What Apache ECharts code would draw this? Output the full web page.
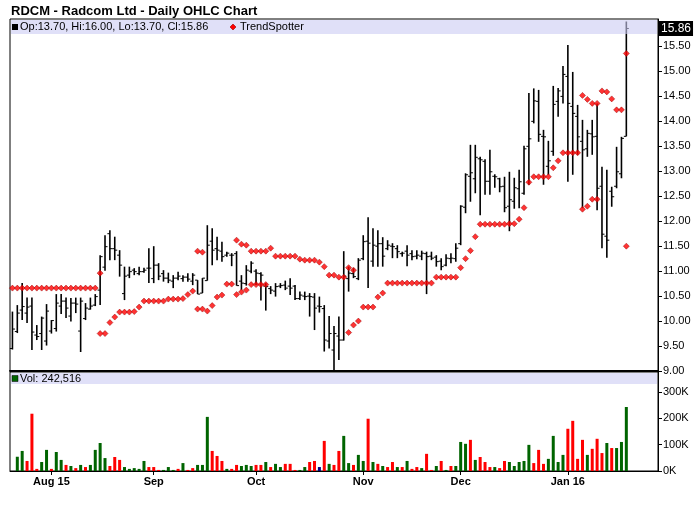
<!DOCTYPE html>
<html><head><meta charset="utf-8">
<script src="https://cdn.jsdelivr.net/npm/echarts@6/dist/echarts.min.js"></script>
<style>html,body{margin:0;padding:0;background:#fff}#c{width:700px;height:512px}</style>
</head><body><div id="c"></div>
<script>
const chartTitle = 'RDCM - Radcom Ltd - Daily OHLC Chart';
// trading days per month
const daysJul15 = [22,23,24,27,28,29,30,31];
const daysAug15 = [3,4,5,6,7,10,11,12,13,14,17,18,19,20,21,24,25,26,27,28,31];
const daysSep15 = [1,2,3,4,8,9,10,11,14,15,16,17,18,21,22,23,24,25,28,29,30];
const daysOct15 = [1,2,5,6,7,8,9,12,13,14,15,16,19,20,21,22,23,26,27,28,29,30];
const daysNov15 = [2,3,4,5,6,9,10,11,12,13,16,17,18,19,20,23,24,25,27,30];
const daysDec15 = [1,2,3,4,7,8,9,10,11,14,15,16,17,18,21,22,23,24,28,29,30,31];
const daysJan16 = [4,5,6,7,8,11,12,13,14,15,19,20,21];

const monthTickDates = ['2015-08-03','2015-09-01','2015-10-01','2015-11-02','2015-12-01','2016-01-04'];
const monthTickLabels = ['Aug 15','Sep','Oct','Nov','Dec','Jan 16'];
const priceTicks = [9,9.5,10,10.5,11,11.5,12,12.5,13,13.5,14,14.5,15,15.5];
const volTicks = [0,100000,200000,300000];

const opens = [
 9.45,9.79,10.22,10.16,10.30,9.72,9.75,9.60,9.80,9.85,
 10.30,10.40,10.10,10.36,9.80,10.05,10.24,10.32,10.62,11.08,
 11.75,11.45,11.32,10.55,10.92,11.02,10.95,10.99,11.06,10.85,
 11.12,10.95,10.86,10.80,10.86,10.85,10.88,10.80,10.82,10.56,
 10.81,11.60,11.45,11.40,11.32,11.32,11.35,10.80,10.75,11.00,
 11.00,10.95,10.70,10.65,10.60,10.70,10.72,10.70,10.70,10.45,
 10.50,10.50,10.48,10.30,10.25,9.60,9.42,9.70,9.62,10.85,
 10.95,10.85,11.25,11.60,11.20,11.50,11.55,11.45,11.50,11.45,
 11.35,11.40,11.35,11.30,11.30,11.35,11.30,11.28,11.20,11.12,
 11.25,11.25,11.55,12.28,12.90,12.85,13.25,13.20,12.80,12.90,
 12.85,12.70,12.30,12.40,12.65,12.56,13.50,14.00,14.40,13.70,
 13.10,13.40,14.40,14.50,14.90,14.30,14.10,13.60,13.45,13.75,
 13.70,12.70,11.70,12.60,12.70,12.95,13.70];
const highs = [
 10.19,10.32,10.76,10.47,10.47,9.92,10.09,10.34,10.02,10.54,
 10.54,10.47,10.46,10.47,10.47,10.36,10.47,10.54,11.32,11.72,
 11.82,11.69,11.42,11.09,11.09,11.06,11.09,11.07,11.46,11.50,
 11.16,11.02,10.97,10.92,10.99,10.92,10.96,10.96,10.82,10.86,
 11.92,11.86,11.69,11.59,11.39,11.36,11.40,10.92,11.12,11.20,
 11.04,10.98,10.76,10.70,10.76,10.76,10.81,10.86,10.72,10.59,
 10.59,10.56,10.56,10.49,10.32,10.10,9.90,10.09,11.40,11.09,
 11.06,11.26,11.72,12.08,11.86,11.82,11.68,11.62,11.56,11.52,
 11.39,11.52,11.42,11.42,11.41,11.39,11.39,11.32,11.26,11.34,
 11.36,11.56,12.32,12.96,13.53,13.53,13.29,13.24,13.43,12.94,
 12.87,12.89,12.99,12.87,13.03,13.51,14.57,14.66,14.63,13.83,
 13.61,14.71,14.67,15.11,15.53,14.99,14.33,14.03,13.83,14.03,
 14.36,13.09,13.03,12.69,13.49,13.69,16.00];
const lows = [
 9.43,9.76,10.02,9.96,9.42,9.62,9.42,9.51,9.75,9.79,
 10.14,10.06,9.99,10.16,9.38,10.02,10.23,10.30,10.32,11.01,
 11.22,11.22,10.89,10.42,10.86,10.92,10.92,10.97,10.76,10.76,
 10.82,10.79,10.76,10.66,10.82,10.79,10.79,10.72,10.54,10.56,
 10.81,11.12,11.22,11.19,11.29,11.10,10.71,10.62,10.71,10.96,
 10.72,10.41,10.21,10.54,10.49,10.66,10.62,10.52,10.42,10.42,
 10.42,10.09,9.82,10.17,9.39,9.45,9.01,9.22,9.61,10.59,
 10.86,10.82,11.22,10.66,11.09,11.09,11.09,11.42,11.26,11.26,
 11.29,11.10,11.22,11.24,11.22,10.54,11.22,11.09,11.02,11.10,
 11.16,11.19,11.52,12.16,12.39,12.56,12.12,12.53,12.53,12.67,
 12.58,12.18,11.80,12.25,12.26,12.53,12.73,13.96,13.59,12.73,
 12.93,13.31,14.09,14.36,12.79,12.93,13.33,12.26,13.29,13.33,
 12.22,11.46,11.27,12.29,12.66,12.86,13.70];
const closes = [
 9.84,10.16,10.29,10.28,9.78,9.69,10.06,10.20,10.01,10.36,
 10.40,10.26,10.36,10.34,10.40,10.26,10.30,10.49,11.29,11.49,
 11.45,11.42,11.12,10.90,10.99,10.99,10.99,11.02,11.06,11.12,
 10.90,10.86,10.82,10.86,10.90,10.88,10.84,10.92,10.54,10.86,
 11.52,11.42,11.42,11.29,11.36,11.32,10.71,10.76,11.02,11.16,
 10.96,10.92,10.69,10.62,10.69,10.71,10.66,10.66,10.45,10.52,
 10.49,10.49,10.26,10.29,9.62,9.75,9.75,9.62,10.90,10.96,
 10.89,11.22,11.59,11.56,11.52,11.55,11.30,11.52,11.49,11.39,
 11.36,11.32,11.29,11.32,11.36,11.29,11.26,11.19,11.09,11.26,
 11.26,11.46,12.30,12.93,12.97,13.28,13.23,12.80,12.99,12.89,
 12.69,12.27,12.43,12.67,12.79,13.45,13.65,14.41,13.74,13.69,
 13.21,14.34,14.61,14.94,14.36,14.16,13.69,13.43,13.76,13.69,
 12.66,11.74,11.62,12.49,12.99,13.66,15.86];
const volumes = [
 null,54000,76000,38000,217000,8000,34000,80000,8000,72000,
 42000,23000,19000,11000,23000,15000,23000,80000,106000,49000,
 19000,53000,42000,15000,8000,11000,8000,38000,15000,15000,
 4000,4000,15000,4000,8000,30000,4000,11000,23000,23000,
 205000,76000,57000,38000,8000,8000,23000,19000,23000,19000,
 23000,23000,34000,15000,27000,15000,27000,27000,4000,4000,
 15000,34000,38000,15000,114000,27000,23000,76000,133000,30000,
 23000,61000,38000,198000,34000,27000,19000,15000,34000,15000,
 15000,38000,8000,15000,11000,65000,4000,19000,38000,4000,
 19000,19000,110000,103000,118000,42000,53000,34000,15000,15000,
 11000,38000,34000,19000,34000,38000,99000,30000,80000,27000,
 46000,133000,34000,61000,160000,190000,46000,118000,61000,84000,
 122000,68000,106000,87000,87000,110000,242516];
// 1 = up day, -1 = down day, 0 = unchanged
const direction = [
 null,1,1,-1,-1,-1,1,1,-1,1,
 1,-1,1,-1,1,-1,1,1,1,1,
 -1,-1,-1,1,1,1,1,1,-1,-1,
 -1,1,1,1,-1,1,-1,-1,1,1,
 1,-1,-1,-1,1,-1,-1,1,1,1,
 -1,-1,1,-1,1,1,-1,-1,-1,1,
 1,-1,-1,0,-1,1,-1,-1,1,1,
 -1,1,1,-1,1,-1,1,-1,-1,1,
 -1,1,-1,-1,1,-1,-1,1,-1,1,
 -1,1,1,1,-1,1,-1,-1,-1,1,
 -1,-1,1,1,1,1,1,-1,-1,-1,
 1,1,1,1,-1,-1,-1,-1,1,-1,
 -1,-1,1,-1,1,1,1];
const trendA = [
 10.66,10.66,10.66,10.66,10.66,10.66,10.66,10.66,10.66,10.66,
 10.66,10.66,10.66,10.66,10.66,10.66,10.66,10.66,10.96,9.75,
 9.97,10.08,10.18,10.18,10.18,10.19,10.28,10.40,10.40,10.40,
 10.40,10.40,10.44,10.44,10.44,10.45,10.53,10.60,10.24,10.24,
 10.20,10.31,10.48,10.52,10.74,10.74,10.53,10.58,10.62,10.73,
 10.73,10.73,10.73,11.46,11.30,11.30,11.30,11.30,11.30,11.24,
 11.22,11.22,11.22,11.18,11.09,10.92,10.92,10.88,10.88,11.07,
 11.02,10.00,10.28,10.28,10.28,10.48,10.56,10.76,10.76,10.76,
 10.76,10.76,10.76,10.76,10.76,10.76,10.76,10.88,10.88,10.88,
 10.88,10.88,11.07,11.25,11.41,11.69,11.94,11.94,11.94,11.94,
 11.94,11.94,11.95,11.95,12.04,12.27,12.78,12.89,12.89,12.89,
 12.89,13.07,13.21,13.37,13.37,13.37,13.37,12.24,12.30,12.44,
 12.44,14.61,14.59,14.45,14.23,14.23,15.36];
const trendB = [
 null,null,null,null,null,null,null,null,null,null,
 null,null,null,null,null,null,null,null,9.75,null,
 null,null,null,null,null,null,null,null,null,null,
 null,null,null,null,null,null,null,null,11.40,11.38,
 null,null,null,null,null,null,11.62,11.54,11.52,11.40,
 11.40,11.40,11.40,null,null,null,null,null,null,null,
 null,null,null,null,null,null,null,null,null,9.77,
 9.92,null,null,null,null,null,null,null,null,null,
 null,null,null,null,null,null,null,null,null,null,
 null,null,null,null,null,null,null,null,null,null,
 null,null,null,null,null,null,null,null,null,null,
 null,null,null,null,null,null,null,14.52,14.44,14.36,
 14.36,null,null,null,null,null,11.50];

const FONT = '"Liberation Sans", Arial, Helvetica, sans-serif';
const p2 = d => (d < 10 ? '0' : '') + d;
const dates = [].concat(
  daysJul15.map(d => '2015-07-' + p2(d)), daysAug15.map(d => '2015-08-' + p2(d)),
  daysSep15.map(d => '2015-09-' + p2(d)), daysOct15.map(d => '2015-10-' + p2(d)),
  daysNov15.map(d => '2015-11-' + p2(d)), daysDec15.map(d => '2015-12-' + p2(d)),
  daysJan16.map(d => '2016-01-' + p2(d)));
const N = dates.length;
const PAD = 6;
const cats = dates.concat(Array.from({length: PAD}, (_, k) => 'pad' + k));
const last = N - 1;

const ohlcData = dates.map((d, i) => [i, opens[i], highs[i], lows[i], closes[i]]);
const trendPts = [];
trendA.forEach((v, i) => { if (v != null) trendPts.push([i, v]); });
trendB.forEach((v, i) => { if (v != null) trendPts.push([i, v]); });
const dirColor = d => d > 0 ? '#006400' : (d < 0 ? '#ff0000' : '#000080');
const volData = volumes.map((v, i) => v == null ? '-' : {value: v, itemStyle: {color: dirColor(direction[i])}});

const ohlcLabel = `Op:${opens[last].toFixed(2)}, Hi:${highs[last].toFixed(2)}, Lo:${lows[last].toFixed(2)}, Cl:${closes[last].toFixed(2)}`;
const volLabel = 'Vol: ' + volumes[last].toLocaleString('en-US');
const isMonthTick = (idx, val) => monthTickDates.indexOf(val) >= 0;

function renderOHLC(params, api) {
  const x = api.value(0);
  const o = api.coord([x, api.value(1)]);
  const h = api.coord([x, api.value(2)]);
  const l = api.coord([x, api.value(3)]);
  const c = api.coord([x, api.value(4)]);
  const cx = h[0];
  return {type: 'group', children: [
    {type: 'line', shape: {x1: cx, y1: h[1], x2: cx, y2: l[1]}, style: {stroke: '#000', lineWidth: 1.6}},
    {type: 'line', shape: {x1: cx - 2.5, y1: o[1], x2: cx, y2: o[1]}, style: {stroke: '#000', lineWidth: 1}},
    {type: 'line', shape: {x1: cx, y1: c[1], x2: cx + 2.5, y2: c[1]}, style: {stroke: '#000', lineWidth: 1}}
  ]};
}

const chart = echarts.init(document.getElementById('c'), null, {renderer: 'canvas'});
chart.setOption({
  animation: false,
  backgroundColor: '#fff',
  title: {text: chartTitle, left: 6, top: 0, textStyle: {fontFamily: FONT, fontSize: 13, fontWeight: 'bold', color: '#000'}},
  grid: [
    {left: 10, top: 19, width: 648, height: 352, show: true, borderColor: '#000', borderWidth: 1, backgroundColor: '#fff'},
    {left: 10, top: 372, width: 648, height: 99, show: true, borderColor: '#000', borderWidth: 1, backgroundColor: '#fff'}
  ],
  xAxis: [
    {type: 'category', gridIndex: 0, data: cats, boundaryGap: true,
     axisLine: {show: true, lineStyle: {color: '#000', width: 2}}, axisTick: {show: false}, axisLabel: {show: false}, splitLine: {show: false}},
    {type: 'category', gridIndex: 1, data: cats, boundaryGap: true,
     axisLine: {show: true, lineStyle: {color: '#000', width: 1}},
     axisTick: {show: true, alignWithLabel: true, interval: isMonthTick, length: 4, lineStyle: {color: '#000'}},
     axisLabel: {interval: isMonthTick, margin: 5, color: '#000', fontFamily: FONT, fontSize: 11, fontWeight: 'bold',
       formatter: v => monthTickLabels[monthTickDates.indexOf(v)] || ''},
     splitLine: {show: false}}
  ],
  yAxis: [
    {type: 'value', gridIndex: 0, position: 'right', min: 9, max: 16.05, interval: 0.5,
     splitLine: {show: false}, axisLine: {show: true, lineStyle: {color: '#000'}},
     axisTick: {show: true, length: 4, customValues: priceTicks, lineStyle: {color: '#000'}},
     axisLabel: {customValues: priceTicks, formatter: v => v.toFixed(2), margin: 5, color: '#000', fontFamily: FONT, fontSize: 11}},
    {type: 'value', gridIndex: 1, position: 'right', min: 0, max: 375000,
     splitLine: {show: false}, axisLine: {show: true, lineStyle: {color: '#000'}},
     axisTick: {show: true, length: 4, customValues: volTicks, lineStyle: {color: '#000'}},
     axisLabel: {customValues: volTicks, formatter: v => (v / 1000) + 'K', margin: 5, color: '#000', fontFamily: FONT, fontSize: 11}},
    {type: 'value', gridIndex: 0, position: 'right', min: 9, max: 16.05, interval: 0.5,
     splitLine: {show: false}, axisLine: {show: false}, axisTick: {show: false},
     axisLabel: {customValues: [closes[last]], formatter: v => v.toFixed(2), margin: 1, color: '#fff',
       backgroundColor: '#000', padding: [2, 2, 1, 2], fontFamily: FONT, fontSize: 12}}
  ],
  series: [
    {name: ohlcLabel, type: 'custom', xAxisIndex: 0, yAxisIndex: 0, renderItem: renderOHLC,
     data: ohlcData, encode: {x: 0, y: [1, 2, 3, 4]}, z: 3},
    {name: 'TrendSpotter', type: 'scatter', xAxisIndex: 0, yAxisIndex: 0, data: trendPts,
     symbol: 'diamond', symbolSize: 6, itemStyle: {color: '#ff0000', borderColor: '#9a0000', borderWidth: 0.6}, z: 4},
    {name: volLabel, type: 'bar', xAxisIndex: 1, yAxisIndex: 1, data: volData, barWidth: 3}
  ],
  graphic: [
    {type: 'rect', z: 100, shape: {x: 11, y: 20, width: 646, height: 14}, style: {fill: 'rgba(203,203,243,0.6)'}},
    {type: 'rect', z: 101, shape: {x: 12, y: 24, width: 6, height: 6}, style: {fill: '#000'}},
    {type: 'text', z: 101, x: 20, y: 27, style: {text: ohlcLabel, fill: '#000', font: '11px ' + FONT, verticalAlign: 'middle'}},
    {type: 'polygon', z: 101, shape: {points: [[233, 24], [236, 27], [233, 30], [230, 27]]}, style: {fill: '#ff0000', stroke: '#9a0000', lineWidth: 0.6}},
    {type: 'text', z: 101, x: 240, y: 27, style: {text: 'TrendSpotter', fill: '#000', font: '11px ' + FONT, verticalAlign: 'middle'}},
    {type: 'rect', z: 100, shape: {x: 11, y: 373, width: 646, height: 11}, style: {fill: 'rgba(203,203,243,0.6)'}},
    {type: 'rect', z: 101, shape: {x: 12, y: 375.5, width: 6, height: 6}, style: {fill: '#006400', stroke: '#000', lineWidth: 0.5}},
    {type: 'text', z: 101, x: 20, y: 378.5, style: {text: volLabel, fill: '#000', font: '11px ' + FONT, verticalAlign: 'middle'}}
  ]
});
</script></body></html>
